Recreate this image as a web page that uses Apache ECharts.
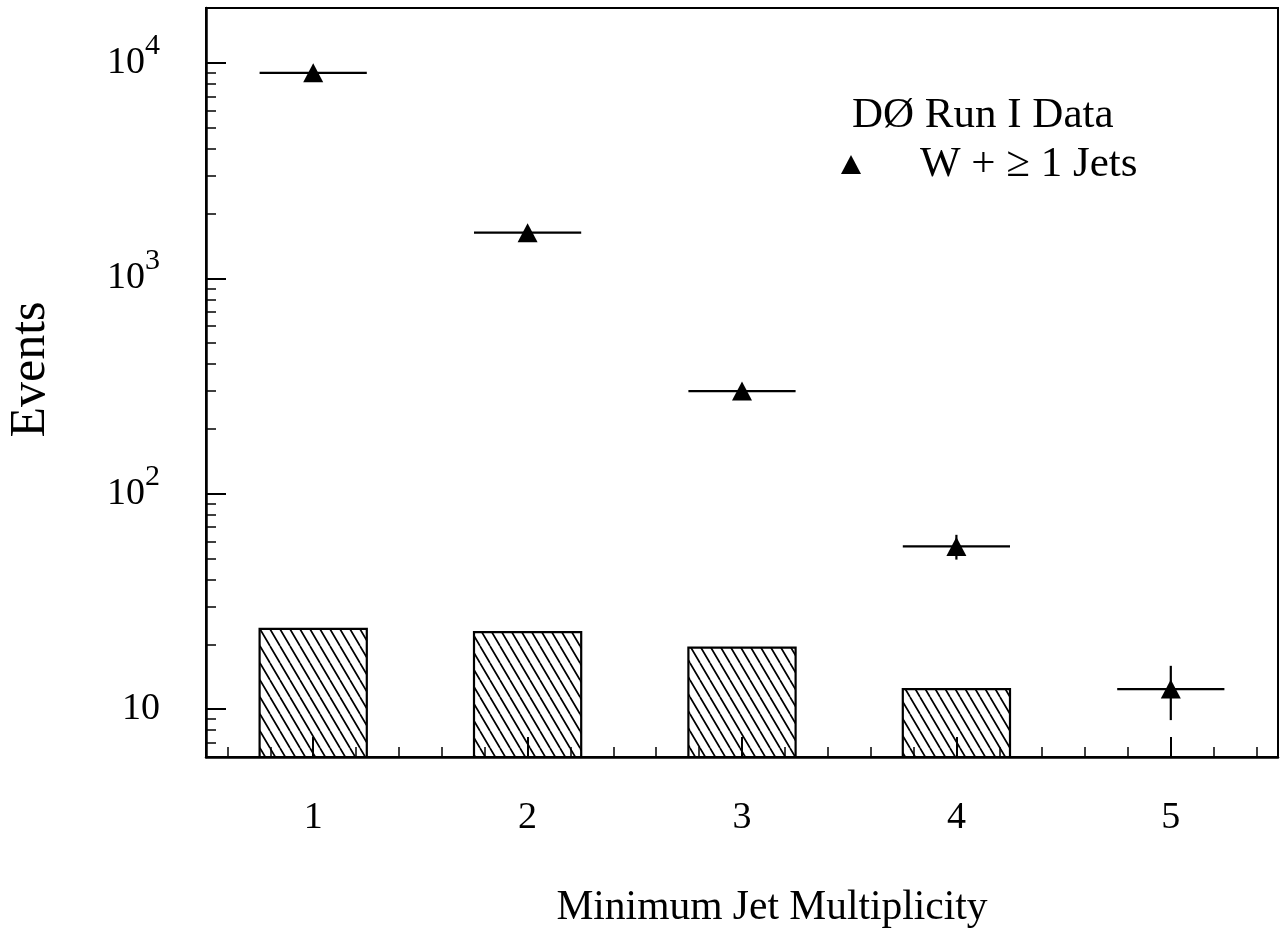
<!DOCTYPE html>
<html>
<head>
<meta charset="utf-8">
<title>W + jets event counts vs. minimum jet multiplicity</title>
<script src="https://cdn.jsdelivr.net/npm/echarts@6/dist/echarts.min.js"></script>
<style>
  html, body { margin: 0; padding: 0; background: #ffffff; }
  #chart { width: 1282px; height: 938px; }
</style>
</head>
<body>
<div id="chart"></div>
<script>
// ---- data ----
const multiplicity = [1, 2, 3, 4, 5];
const dataEvents = [9000, 1630, 300, 57, 12.4];
const dataErrors = [95, 40, 17, 7.5, 3.5];

const backgroundMultiplicity = [1, 2, 3, 4];
const backgroundEvents = [23.6, 22.8, 19.3, 12.4];

const xLabelTicks = [1, 2, 3, 4, 5];
const xMinorTicks = [0.6, 0.8, 1.2, 1.4, 1.6, 1.8, 2.2, 2.4, 2.6, 2.8,
                     3.2, 3.4, 3.6, 3.8, 4.2, 4.4, 4.6, 4.8, 5.2, 5.4];
const yLabelTicks = [10, 100, 1000, 10000];
const yMinorTicks = [7, 8, 9,
                     20, 30, 40, 50, 60, 70, 80, 90,
                     200, 300, 400, 500, 600, 700, 800, 900,
                     2000, 3000, 4000, 5000, 6000, 7000, 8000, 9000];

const seriesName = 'W + \u2265 1 Jets';
const headerText = 'D\u00D8 Run I Data';

// ---- drawing ----
const SERIF = "'Liberation Serif', 'DejaVu Serif', 'Times New Roman', serif";
const HALF_BIN = 0.25;

// diagonal hatch tile for the background histogram
function makeHatch() {
  const w = 10, h = 17;
  const c = document.createElement('canvas');
  c.width = w; c.height = h;
  const ctx = c.getContext('2d');
  ctx.strokeStyle = '#000';
  ctx.lineWidth = 1.7;
  ctx.beginPath();
  for (let k = -1; k <= 1; k++) {
    ctx.moveTo(k * w, 0);
    ctx.lineTo(k * w + w, h);
  }
  ctx.stroke();
  return c;
}
const hatch = makeHatch();

const chart = echarts.init(document.getElementById('chart'), null, { renderer: 'canvas' });

function yLabel(value) {
  const e = Math.round(Math.log10(value));
  return e === 1 ? '{b|10}' : '{b|10}{s|' + e + '}';
}

const axisLabelRich = {
  b: { fontFamily: SERIF, fontSize: 38, color: '#000', lineHeight: 64, verticalAlign: 'middle' },
  s: { fontFamily: SERIF, fontSize: 30, color: '#000', verticalAlign: 'top' }
};

const option = {
  backgroundColor: '#ffffff',
  animation: false,
  title: {
    text: headerText,
    left: 852,
    top: 94,
    padding: 0,
    textStyle: { fontFamily: SERIF, fontSize: 43, fontWeight: 'normal', color: '#000' }
  },
  legend: {
    left: 841,
    top: 143,
    padding: 0,
    itemWidth: 20,
    itemHeight: 19,
    data: [{ name: seriesName, icon: 'triangle' }],
    itemStyle: { color: '#000', opacity: 1 },
    textStyle: { fontFamily: SERIF, fontSize: 43, color: '#000', padding: [0, 0, 0, 54] }
  },
  grid: {
    left: 206, right: 4, top: 8, bottom: 181,
    outerBoundsMode: 'none',
    show: true, borderColor: '#000', borderWidth: 2, backgroundColor: 'transparent',
    containLabel: false
  },
  xAxis: [
    {
      type: 'value', min: 0.5, max: 5.5, position: 'bottom',
      name: 'Minimum Jet Multiplicity',
      nameLocation: 'middle', nameGap: 130,
      nameTextStyle: { fontFamily: SERIF, fontSize: 41.5, color: '#000', padding: [0, 0, 0, 60] },
      axisLine: { show: true, lineStyle: { color: '#000', width: 2.5 } },
      axisTick: { show: true, inside: true, length: 20, customValues: xLabelTicks, lineStyle: { color: '#000', width: 2 } },
      axisLabel: { show: true, customValues: xLabelTicks, margin: 42, fontFamily: SERIF, fontSize: 38, color: '#000' },
      splitLine: { show: false }
    },
    {
      type: 'value', min: 0.5, max: 5.5, position: 'bottom',
      axisLine: { show: false },
      axisTick: { show: true, inside: true, length: 10, customValues: xMinorTicks, lineStyle: { color: '#000', width: 1.5 } },
      axisLabel: { show: false },
      splitLine: { show: false }
    }
  ],
  yAxis: [
    {
      type: 'log', logBase: 10, min: 6, max: 18000, position: 'left',
      name: 'Events',
      nameLocation: 'middle', nameGap: 150, nameRotate: 90,
      nameTextStyle: { fontFamily: SERIF, fontSize: 50, color: '#000', padding: [0, 0, 0, 26] },
      axisLine: { show: true, lineStyle: { color: '#000', width: 2.5 } },
      axisTick: { show: true, inside: true, length: 20, customValues: yLabelTicks, lineStyle: { color: '#000', width: 2 } },
      axisLabel: { show: true, customValues: yLabelTicks, margin: 46, formatter: yLabel, rich: axisLabelRich },
      splitLine: { show: false }
    },
    {
      type: 'log', logBase: 10, min: 6, max: 18000, position: 'left',
      axisLine: { show: false },
      axisTick: { show: true, inside: true, length: 10, customValues: yMinorTicks, lineStyle: { color: '#000', width: 1.5 } },
      axisLabel: { show: false },
      splitLine: { show: false }
    }
  ],
  series: [
    {
      name: 'background',
      type: 'custom',
      xAxisIndex: 0, yAxisIndex: 0,
      clip: true,
      z: 2,
      data: backgroundMultiplicity.map((m, i) => [m, backgroundEvents[i]]),
      renderItem(params, api) {
        const x = api.value(0), v = api.value(1);
        const tl = api.coord([x - HALF_BIN, v]);
        const tr = api.coord([x + HALF_BIN, v]);
        const bottom = params.coordSys.y + params.coordSys.height;
        return {
          type: 'rect',
          shape: { x: tl[0], y: tl[1], width: tr[0] - tl[0], height: bottom - tl[1] },
          style: { fill: { image: hatch, repeat: 'repeat' }, stroke: '#000', lineWidth: 2.2 }
        };
      }
    },
    {
      name: 'errors',
      type: 'custom',
      xAxisIndex: 0, yAxisIndex: 0,
      clip: true,
      z: 3,
      data: multiplicity.map((m, i) => [m, dataEvents[i], dataEvents[i] - dataErrors[i], dataEvents[i] + dataErrors[i]]),
      renderItem(params, api) {
        const x = api.value(0), v = api.value(1);
        const left = api.coord([x - HALF_BIN, v]);
        const right = api.coord([x + HALF_BIN, v]);
        const lo = api.coord([x, api.value(2)]);
        const hi = api.coord([x, api.value(3)]);
        const st = { stroke: '#000', lineWidth: 2.2 };
        return {
          type: 'group',
          children: [
            { type: 'line', shape: { x1: left[0], y1: left[1], x2: right[0], y2: right[1] }, style: st },
            { type: 'line', shape: { x1: lo[0], y1: lo[1], x2: hi[0], y2: hi[1] }, style: st }
          ]
        };
      }
    },
    {
      name: seriesName,
      type: 'scatter',
      xAxisIndex: 0, yAxisIndex: 0,
      symbol: 'triangle',
      symbolSize: [20, 19],
      itemStyle: { color: '#000', opacity: 1 },
      z: 4,
      data: multiplicity.map((m, i) => [m, dataEvents[i]])
    }
  ]
};

chart.setOption(option);
</script>
</body>
</html>
